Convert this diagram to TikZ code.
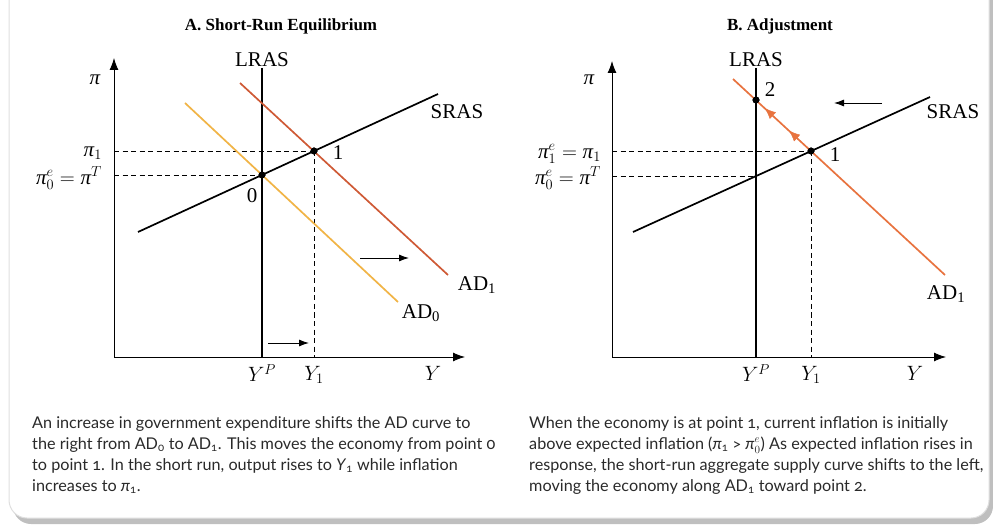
\documentclass[tikz,border=0pt]{standalone}
\usepackage{fontspec}
\setmainfont{Liberation Serif}
\newfontfamily\capfont{Lato}[Numbers=OldStyle]
\usetikzlibrary{arrows.meta,decorations.markings,positioning}
\definecolor{adred}{HTML}{CF5A36}
\definecolor{adgold}{HTML}{F1B446}
\definecolor{adorange}{HTML}{E8733F}
\definecolor{captext}{HTML}{2A2A2A}
\newcommand{\vpi}{\mbox{\itshape π}}

\begin{document}
\begin{tikzpicture}[x=1pt, y=-1pt,
  lbl/.style={font=\fontsize{21}{24}\selectfont, inner sep=1pt},
  ttl/.style={font=\fontsize{17}{20}\selectfont\bfseries, inner sep=1pt},
  axis/.style={line width=0.9pt, -{Latex[length=12pt,width=9pt]}},
  curve/.style={line width=1.7pt},
  guide/.style={line width=0.7pt, dash pattern=on 5pt off 3.5pt},
  shiftarrow/.style={line width=0.9pt, -{Latex[length=10pt,width=7pt]}},
  dot/.style={circle, fill=black, inner sep=0pt, minimum size=7pt},
  caption/.style={font=\capfont\fontsize{16.2}{21}\selectfont, text=captext, align=left, anchor=north west, inner sep=0pt}]

  % frame with shadow
  \clip (0,0) rectangle (993,529);
  \fill[gray!50, rounded corners=18pt] (13,-40) rectangle (993,524);
  \filldraw[fill=white, draw=gray!25, line width=1pt, rounded corners=18pt] (9,-40) rectangle (989,518);

  % ---- panel A ----
  \node[ttl] (titleA) at (281,26) {A. Short-Run Equilibrium};
  \coordinate (oA) at (114,357);
  \coordinate (ytopA) at (114,58);
  \coordinate (xendA) at (465,357);
  \draw[axis] (oA) -- (ytopA);
  \draw[axis] (oA) -- (xendA);

  \node[dot] (p0A) at (262,175) {};
  \node[dot] (p1A) at (314,151) {};
  \coordinate (lrtopA) at (262,68);
  \coordinate (lrbotA) at (262,357);
  \coordinate (y1A) at (314,357);
  \coordinate (pi1A) at (114,151);
  \coordinate (pi0A) at (114,175);

  \draw[guide] (pi1A) -- (p1A.center);
  \draw[guide] (pi0A) -- (p0A.center);
  \draw[guide] (p1A.center) -- (y1A);
  \draw[line width=1.2pt] (lrtopA) -- (lrbotA);

  \coordinate (adzA) at (185,103);
  \coordinate (adzendA) at (398,302);
  \coordinate (adoA) at (240,83);
  \coordinate (adoendA) at (448,275);
  \draw[curve, adgold] (adzA) -- (adzendA);
  \draw[curve, adred] (adoA) -- (adoendA);
  \coordinate (srA) at (138,232);
  \coordinate (srendA) at (438,94);
  \draw[curve] (srA) -- (srendA);
  \node[dot] at (p0A) {};
  \node[dot] at (p1A) {};

  \coordinate (shAa) at (360,258);
  \coordinate (shAb) at (409,258);
  \draw[shiftarrow] (shAa) -- (shAb);
  \coordinate (shAc) at (268,343);
  \coordinate (shAd) at (309,343);
  \draw[shiftarrow] (shAc) -- (shAd);

  \node[lbl, above=0pt of lrtopA] (lrasA) {LRAS};
  \node[lbl] (srasA) at (457,112) {SRAS};
  \node[lbl] (adoneA) at (477,285) {AD\textsubscript{1}};
  \node[lbl] (adzeroA) at (421,313) {AD\textsubscript{0}};
  \node[lbl] (zeroA) at (252,196) {0};
  \node[lbl] (oneA) at (338,153) {1};
  \node[lbl] (piA) at (95,80) {\vpi};
  \node[lbl, anchor=east] (pioneA) at (103,153) {$\vpi_1$};
  \node[lbl, anchor=east] (pizeroA) at (103,178) {$\vpi^e_0=\vpi^T$};
  \node[lbl] (ypA) at (262,373) {$Y^P$};
  \node[lbl] (yoneA) at (314,375) {$Y_1$};
  \node[lbl] (yA) at (433,373) {$Y$};

  % ---- panel B ----
  \node[ttl] (titleB) at (780,26) {B. Adjustment};
  \coordinate (oB) at (612,357);
  \coordinate (ytopB) at (612,61);
  \coordinate (xendB) at (946,357);
  \draw[axis] (oB) -- (ytopB);
  \draw[axis] (oB) -- (xendB);

  \node[dot] (p1B) at (811,151) {};
  \node[dot] (p2B) at (756,100) {};
  \coordinate (lrtopB) at (756,68);
  \coordinate (lrbotB) at (756,357);
  \coordinate (crossB) at (756,176);
  \coordinate (y1B) at (811,357);
  \coordinate (pi1B) at (612,151);
  \coordinate (pi0B) at (612,176);

  \draw[guide] (pi1B) -- (p1B.center);
  \draw[guide] (pi0B) -- (crossB);
  \draw[guide] (p1B.center) -- (y1B);
  \draw[line width=2.6pt] (lrtopB) -- (lrbotB);

  \coordinate (srB) at (633,232);
  \coordinate (srendB) at (930,97);
  \draw[curve] (srB) -- (srendB);
  \coordinate (adoB) at (733,79);
  \coordinate (adoendB) at (945,275);
  \draw[curve, adorange] (adoB) -- (adoendB);
  \path[adorange, postaction={decorate}, decoration={markings,
      mark=at position 0.4 with {\arrow{Latex[length=11pt,width=9pt]}},
      mark=at position 0.84 with {\arrow{Latex[length=11pt,width=9pt]}}}]
    (p1B.center) -- (p2B.center);
  \node[dot] at (p1B) {};
  \node[dot] at (p2B) {};

  \coordinate (shBa) at (882,103);
  \coordinate (shBb) at (834,103);
  \draw[shiftarrow] (shBa) -- (shBb);

  \node[lbl, above=0pt of lrtopB] (lrasB) {LRAS};
  \node[lbl] (srasB) at (953,112) {SRAS};
  \node[lbl] (adoneB) at (946,294) {AD\textsubscript{1}};
  \node[lbl] (oneB) at (835,155) {1};
  \node[lbl] (twoB) at (770,90) {2};
  \node[lbl] (piB) at (589,80) {\vpi};
  \node[lbl, anchor=east] (pioneB) at (602,154) {$\vpi^e_1=\vpi_1$};
  \node[lbl, anchor=east] (pizeroB) at (602,178) {$\vpi^e_0=\vpi^T$};
  \node[lbl] (ypB) at (756,373) {$Y^P$};
  \node[lbl] (yoneB) at (811,375) {$Y_1$};
  \node[lbl] (yB) at (915,373) {$Y$};

  % ---- captions ----
  \node[caption] (capA) at (32,416) {An increase in government expenditure shifts the AD curve to\\
    the right from AD\textsubscript{0} to AD\textsubscript{1}. This moves the economy from point 0\\
    to point 1. In the short run, output rises to \textit{Y}\textsubscript{1} while inflation\\
    increases to \textit{π}\textsubscript{1}.};
  \node[caption] (capB) at (529,416) {When the economy is at point 1, current inflation is initially\\
    above expected inflation (\textit{π}\textsubscript{1} > $\vpi^e_0$) As expected inflation rises in\\
    response, the short-run aggregate supply curve shifts to the left,\\
    moving the economy along AD\textsubscript{1} toward point 2.};
\end{tikzpicture}
\end{document}
